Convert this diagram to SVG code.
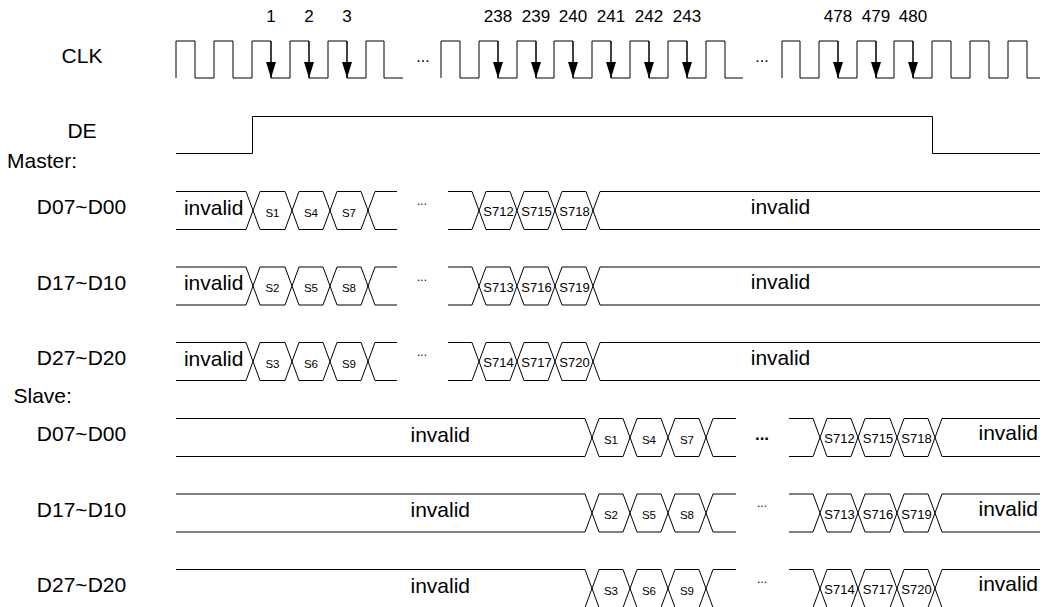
<svg xmlns="http://www.w3.org/2000/svg" xmlns:xlink="http://www.w3.org/1999/xlink" width="1040" height="607" viewBox="0 0 1040 607">
<style>
  text { font-family: "Liberation Sans", Arial, sans-serif; fill: #000; }
  .lbl { font-size: 21px; text-anchor: middle; }
  .side { font-size: 21px; text-anchor: start; }
  .inv { font-size: 21px; text-anchor: middle; }
  .num { font-size: 17px; text-anchor: middle; }
  .hex { font-size: 11.5px; text-anchor: middle; }
  .hexl { font-size: 13px; text-anchor: middle; }
  .dots { font-size: 12px; text-anchor: middle; }
  .cdots { font-size: 16px; text-anchor: middle; }
  .bdots { font-size: 17px; font-weight: bold; text-anchor: middle; }
  .wave { fill: none; stroke: #000; stroke-width: 1; }
  .arr { fill: none; stroke: #000; stroke-width: 1; marker-end: url(#tri); }
</style>
<defs>
  <marker id="tri" markerUnits="userSpaceOnUse" markerWidth="16" markerHeight="10" refX="16" refY="5" orient="auto">
    <path d="M0,0 L16,5 L0,10 Z" fill="#000"/>
  </marker>
  <g id="mbus">
    <path class="wave" d="M176,0 H246 L260,38 H285 L299,0 H323 L337,38 H361 L375,0 H397"/>
    <path class="wave" d="M176,38 H246 L260,0 H285 L299,38 H323 L337,0 H361 L375,38 H397"/>
    <path class="wave" d="M448,0 H472 L486,38 H510 L524,0 H548 L562,38 H586 L600,0 H1040"/>
    <path class="wave" d="M448,38 H472 L486,0 H510 L524,38 H548 L562,0 H586 L600,38 H1040"/>
  </g>
  <g id="sbus">
    <path class="wave" d="M176,0 H585 L599,38 H623 L637,0 H661 L675,38 H699 L713,0 H736"/>
    <path class="wave" d="M176,38 H585 L599,0 H623 L637,38 H661 L675,0 H699 L713,38 H736"/>
    <path class="wave" d="M789,0 H813 L827,38 H851 L865,0 H890 L904,38 H928 L942,0 H1040"/>
    <path class="wave" d="M789,38 H813 L827,0 H851 L865,38 H890 L904,0 H928 L942,38 H1040"/>
  </g>
</defs>

<g id="clk">
  <text class="lbl" x="82" y="63">CLK</text>
  <path class="wave" d="M176,78 V41 H195 V78 H214 V41 H233 V78 H252 V41 H271 V78 H290 V41 H309 V78 H328 V41 H347 V78 H366 V41 H384 V78 H403"/>
  <text class="cdots" x="423" y="62">...</text>
  <path class="wave" d="M441,78 V41 H460 V78 H479 V41 H498 V78 H517 V41 H536 V78 H554 V41 H573 V78 H592 V41 H611 V78 H630 V41 H649 V78 H668 V41 H687 V78 H706 V41 H725 V78 H743"/>
  <text class="cdots" x="762" y="62">...</text>
  <path class="wave" d="M782,78 V41 H800 V78 H819 V41 H838 V78 H857 V41 H876 V78 H894 V41 H913 V78 H932 V41 H951 V78 H970 V41 H989 V78 H1008 V41 H1027 V78 H1040"/>
  <text class="num" x="271" y="22">1</text>
  <text class="num" x="309" y="22">2</text>
  <text class="num" x="347" y="22">3</text>
  <text class="num" x="498" y="22">238</text>
  <text class="num" x="536" y="22">239</text>
  <text class="num" x="573" y="22">240</text>
  <text class="num" x="611" y="22">241</text>
  <text class="num" x="649" y="22">242</text>
  <text class="num" x="687" y="22">243</text>
  <text class="num" x="838" y="22">478</text>
  <text class="num" x="876" y="22">479</text>
  <text class="num" x="913" y="22">480</text>
</g>

<g id="connectors">
  <line class="arr" x1="271" y1="41" x2="271" y2="78"/>
  <line class="arr" x1="309" y1="41" x2="309" y2="78"/>
  <line class="arr" x1="347" y1="41" x2="347" y2="78"/>
  <line class="arr" x1="498" y1="41" x2="498" y2="78"/>
  <line class="arr" x1="536" y1="41" x2="536" y2="78"/>
  <line class="arr" x1="573" y1="41" x2="573" y2="78"/>
  <line class="arr" x1="611" y1="41" x2="611" y2="78"/>
  <line class="arr" x1="649" y1="41" x2="649" y2="78"/>
  <line class="arr" x1="687" y1="41" x2="687" y2="78"/>
  <line class="arr" x1="838" y1="41" x2="838" y2="78"/>
  <line class="arr" x1="876" y1="41" x2="876" y2="78"/>
  <line class="arr" x1="913" y1="41" x2="913" y2="78"/>
</g>

<g id="de">
  <text class="lbl" x="82" y="138">DE</text>
  <path class="wave" d="M176,153.5 H252.5 V116.5 H932.5 V153.5 H1040"/>
</g>

<g id="master">
  <text class="side" x="7" y="168">Master:</text>
</g>

<g id="m-d07" transform="translate(0,191.5)">
  <text class="lbl" x="81.5" y="22.5">D07~D00</text>
  <use xlink:href="#mbus"/>
  <text class="inv" x="213.7" y="23">invalid</text>
  <text class="hex" x="272.5" y="25">S1</text>
  <text class="hex" x="311" y="25">S4</text>
  <text class="hex" x="349" y="25">S7</text>
  <text class="dots" x="422" y="13.5">...</text>
  <text class="hexl" x="498.5" y="24.5">S712</text>
  <text class="hexl" x="536.5" y="24.5">S715</text>
  <text class="hexl" x="574.5" y="24.5">S718</text>
  <text class="inv" x="780.5" y="22">invalid</text>
</g>

<g id="m-d17" transform="translate(0,267)">
  <text class="lbl" x="81.5" y="22.5">D17~D10</text>
  <use xlink:href="#mbus"/>
  <text class="inv" x="213.7" y="23">invalid</text>
  <text class="hex" x="272.5" y="25">S2</text>
  <text class="hex" x="311" y="25">S5</text>
  <text class="hex" x="349" y="25">S8</text>
  <text class="dots" x="422" y="13.5">...</text>
  <text class="hexl" x="498.5" y="24.5">S713</text>
  <text class="hexl" x="536.5" y="24.5">S716</text>
  <text class="hexl" x="574.5" y="24.5">S719</text>
  <text class="inv" x="780.5" y="22">invalid</text>
</g>

<g id="m-d27" transform="translate(0,342.5)">
  <text class="lbl" x="81.5" y="22.5">D27~D20</text>
  <use xlink:href="#mbus"/>
  <text class="inv" x="213.7" y="23">invalid</text>
  <text class="hex" x="272.5" y="25">S3</text>
  <text class="hex" x="311" y="25">S6</text>
  <text class="hex" x="349" y="25">S9</text>
  <text class="dots" x="422" y="13.5">...</text>
  <text class="hexl" x="498.5" y="24.5">S714</text>
  <text class="hexl" x="536.5" y="24.5">S717</text>
  <text class="hexl" x="574.5" y="24.5">S720</text>
  <text class="inv" x="780.5" y="22">invalid</text>
</g>

<g id="slave">
  <text class="side" x="13.5" y="403">Slave:</text>
</g>

<g id="s-d07" transform="translate(0,418.5)">
  <text class="lbl" x="81.5" y="22.5">D07~D00</text>
  <use xlink:href="#sbus"/>
  <text class="inv" x="440.3" y="23">invalid</text>
  <text class="hex" x="611" y="25">S1</text>
  <text class="hex" x="649" y="25">S4</text>
  <text class="hex" x="687" y="25">S7</text>
  <text class="bdots" x="762" y="21.5">...</text>
  <text class="hexl" x="839.5" y="24.5">S712</text>
  <text class="hexl" x="878" y="24.5">S715</text>
  <text class="hexl" x="916.5" y="24.5">S718</text>
  <text class="inv" x="1008.3" y="21.5">invalid</text>
</g>

<g id="s-d17" transform="translate(0,494)">
  <text class="lbl" x="81.5" y="22.5">D17~D10</text>
  <use xlink:href="#sbus"/>
  <text class="inv" x="440.3" y="23">invalid</text>
  <text class="hex" x="611" y="25">S2</text>
  <text class="hex" x="649" y="25">S5</text>
  <text class="hex" x="687" y="25">S8</text>
  <text class="dots" x="762" y="13.3">...</text>
  <text class="hexl" x="839.5" y="24.5">S713</text>
  <text class="hexl" x="878" y="24.5">S716</text>
  <text class="hexl" x="916.5" y="24.5">S719</text>
  <text class="inv" x="1008.3" y="21.5">invalid</text>
</g>

<g id="s-d27" transform="translate(0,569.5)">
  <text class="lbl" x="81.5" y="22.5">D27~D20</text>
  <use xlink:href="#sbus"/>
  <text class="inv" x="440.3" y="23">invalid</text>
  <text class="hex" x="611" y="25">S3</text>
  <text class="hex" x="649" y="25">S6</text>
  <text class="hex" x="687" y="25">S9</text>
  <text class="dots" x="762" y="13.3">...</text>
  <text class="hexl" x="839.5" y="24.5">S714</text>
  <text class="hexl" x="878" y="24.5">S717</text>
  <text class="hexl" x="916.5" y="24.5">S720</text>
  <text class="inv" x="1008.3" y="21.5">invalid</text>
</g>
</svg>
